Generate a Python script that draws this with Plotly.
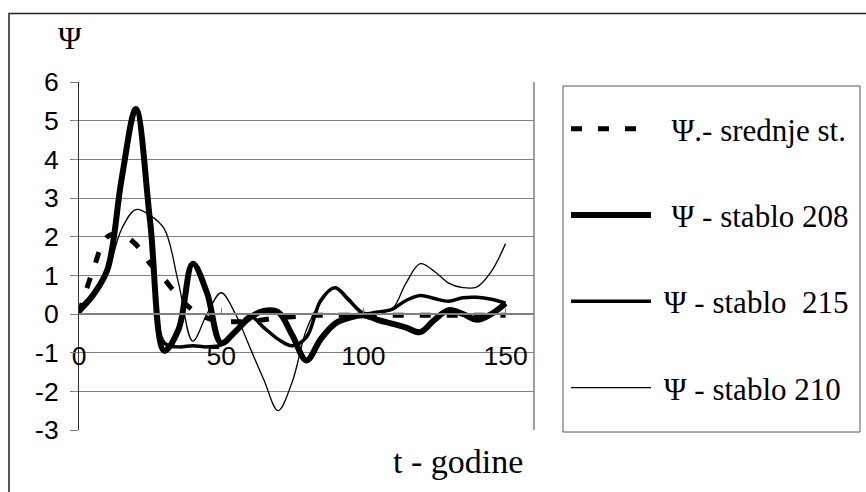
import plotly.graph_objects as go

# ---- data ----
t_years = [0, 5, 10, 15, 20, 25, 30, 35, 40, 45, 50, 55, 60, 65, 70, 75, 80, 85, 90, 95,
           100, 105, 110, 115, 120, 125, 130, 135, 140, 145, 150]

psi_srednje = [0.0, 1.15, 2.0, 2.05, 1.8, 1.3, 0.9, 0.45, 0.1, -0.1, -0.2, -0.2, -0.2, -0.15,
               -0.1, -0.07, -0.04, -0.03, -0.03, -0.03, -0.03, -0.03, -0.03, -0.03, -0.03,
               -0.03, -0.03, -0.03, -0.03, -0.03, -0.03]

psi_208 = [0.1, 0.5, 1.15, 3.5, 5.3, 2.4, -0.95, -0.4, 1.3, 0.55, -0.75, -0.45, -0.1, 0.08,
           0.05, -0.55, -1.2, -0.65, -0.25, -0.1, -0.03, -0.15, -0.25, -0.35, -0.47, -0.15,
           0.1, 0.0, -0.15, 0.0, 0.28]

psi_215 = [0.05, 0.5, 1.15, 3.5, 5.3, 2.4, -0.75, -0.85, -0.82, -0.85, -0.8, -0.45, -0.05,
           -0.35, -0.65, -0.82, -0.6, 0.35, 0.68, 0.35, 0.02, 0.05, 0.12, 0.35, 0.48, 0.4,
           0.33, 0.42, 0.43, 0.38, 0.28]

psi_210 = [0.0, 0.4, 1.05, 2.2, 2.7, 2.55, 2.2, 0.8, -0.7, 0.0, 0.55, 0.0, -0.85, -1.7,
           -2.5, -1.75, -0.4, 0.3, 0.7, 0.4, 0.0, 0.05, 0.12, 0.8, 1.3, 1.1, 0.8, 0.68,
           0.7, 1.1, 1.82]

series_names = ["\u00a0\u00a0Ψ.- srednje st.", "\u00a0\u00a0Ψ - stablo 208",
                "\u00a0Ψ - stablo  215", "\u00a0Ψ - stablo 210"]

y_tickvals = [-3, -2, -1, 0, 1, 2, 3, 4, 5, 6]
y_ticktext = ["-3", "-2", "-1", "0", "1", "2", "3", "4", "5", "6"]
x_tickvals = [0, 50, 100, 150]
x_ticktext = ["0", "50", "100", "150"]

SERIF = "Liberation Serif, Times New Roman, serif"
SANS = "Liberation Sans, Arial, sans-serif"

fig = go.Figure()

styles = [
    dict(width=5, dash="11px,16px"),
    dict(width=6, dash="solid"),
    dict(width=3.5, dash="solid"),
    dict(width=1.3, dash="solid"),
]
values = [psi_srednje, psi_208, psi_215, psi_210]

for i, (name, vals, st) in enumerate(zip(series_names, values, styles)):
    fig.add_trace(go.Scatter(
        x=t_years, y=vals, name=name, mode="lines",
        line=dict(color="black", width=st["width"], dash=st["dash"],
                  shape="spline", smoothing=1.0),
        legendgroup=f"g{i}",
    ))

# page body margin is removed by the post script, so figure px == screen px
W, H = 866, 492
# target plot area on screen: x 79..534, y 82..430
ml, mt = 79, 82
mr, mb = W - 534, H - 430
pw, ph = W - ml - mr, H - mt - mb


def px2paper(xs, ys):
    """screen pixel -> paper coords"""
    return (xs - ml) / pw, (H - mb - ys) / ph


lx0, ly1 = px2paper(563, 86)
lx1, ly0 = px2paper(860, 432)
fx0, fy1 = px2paper(9, 13.5)
fx1, fy0 = px2paper(900, 520)
leg_x, leg_y = px2paper(566, 102)
psi_x, psi_y = px2paper(70, 38)
tt_x, tt_y = px2paper(458, 462)

fig.update_layout(
    width=W, height=H,
    margin=dict(l=ml, r=mr, t=mt, b=mb, pad=0),
    paper_bgcolor="white", plot_bgcolor="white",
    showlegend=True,
    legend=dict(
        x=leg_x, y=leg_y, xanchor="left", yanchor="top",
        font=dict(family=SERIF, size=31, color="black"),
        itemwidth=80, tracegroupgap=43, borderwidth=0,
        bgcolor="rgba(0,0,0,0)",
    ),
    xaxis=dict(
        range=[0, 160], tickvals=x_tickvals, ticktext=x_ticktext,
        anchor="free", position=1 / 3,
        showline=True, linecolor="#808080", linewidth=1.5,
        ticks="inside", ticklen=5, tickcolor="#808080", tickwidth=1,
        showgrid=False, zeroline=False,
        tickfont=dict(family=SANS, size=26.5, color="black"),
        ticklabelstandoff=18,
    ),
    yaxis=dict(
        range=[-3, 6], tickvals=y_tickvals, ticktext=y_ticktext,
        showline=True, linecolor="#333333", linewidth=1,
        ticks="outside", ticklen=8, tickcolor="#808080", tickwidth=1,
        showgrid=True, gridcolor="#808080", gridwidth=1.2,
        zeroline=False,
        tickfont=dict(family=SANS, size=26.5, color="black"),
        ticklabelstandoff=6,
    ),
    shapes=[
        # plot-area right border
        dict(type="line", xref="paper", yref="paper", x0=1, x1=1, y0=0, y1=1,
             line=dict(color="#808080", width=1.5)),
        # legend box
        dict(type="rect", xref="paper", yref="paper", x0=lx0, x1=lx1, y0=ly0, y1=ly1,
             line=dict(color="#555555", width=1)),
        # outer chart frame
        dict(type="rect", xref="paper", yref="paper", x0=fx0, x1=fx1, y0=fy0, y1=fy1,
             line=dict(color="#222222", width=1.5), layer="below"),
    ],
    annotations=[
        dict(text="Ψ", xref="paper", yref="paper", x=psi_x, y=psi_y,
             showarrow=False, xanchor="center", yanchor="middle",
             font=dict(family=SERIF, size=32, color="black")),
        dict(text="t - godine", xref="paper", yref="paper", x=tt_x, y=tt_y,
             showarrow=False, xanchor="center", yanchor="middle",
             font=dict(family=SERIF, size=34, color="black")),
    ],
)

fig.write_html(
    "out.html",
    config={"displayModeBar": False},
    post_script="document.body.style.margin='0';document.body.style.overflow='hidden';",
)
